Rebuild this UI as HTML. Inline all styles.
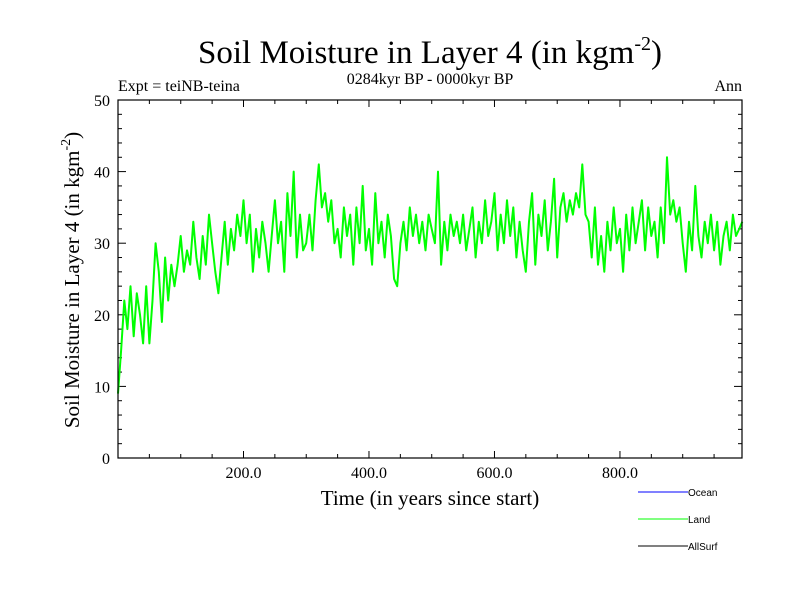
<!DOCTYPE html>
<html><head><meta charset="utf-8"><style>
body{margin:0;background:#fff}
.serif{font-family:"Liberation Serif",serif}
.sans{font-family:"Liberation Sans",sans-serif}
</style></head><body>
<svg id="c" width="800" height="600" xmlns="http://www.w3.org/2000/svg">
<text class="serif" x="430" y="63" font-size="33" text-anchor="middle">Soil Moisture in Layer 4 (in kgm<tspan dy="-13" font-size="20">-2</tspan><tspan dy="13">)</tspan></text>
<text class="serif" x="430" y="84" font-size="16" text-anchor="middle">0284kyr BP - 0000kyr BP</text>
<text class="serif" x="118" y="91" font-size="16">Expt = teiNB-teina</text>
<text class="serif" x="742" y="91" font-size="16" text-anchor="end">Ann</text>
<text class="serif" x="430" y="505" font-size="21" text-anchor="middle">Time (in years since start)</text>
<text class="serif" transform="translate(79,280) rotate(-90)" font-size="21" text-anchor="middle">Soil Moisture in Layer 4 (in kgm<tspan dy="-9" font-size="14">-2</tspan><tspan dy="9">)</tspan></text>
<g id="ticks" class="serif"></g>
<polyline id="land" fill="none" stroke="#00ff00" stroke-width="2" stroke-linejoin="round"/>
<rect x="118" y="100" width="624" height="358" fill="none" stroke="#000" stroke-width="1.2"/>
<g class="sans" font-size="10">
<line x1="638" y1="492" x2="688" y2="492" stroke="#0000ff"/>
<text x="688" y="496">Ocean</text>
<line x1="638" y1="519" x2="688" y2="519" stroke="#00ff00"/>
<text x="688" y="523">Land</text>
<line x1="638" y1="546" x2="688" y2="546" stroke="#000"/>
<text x="688" y="550">AllSurf</text>
</g>
</svg>
<script>
const years = Array.from({length:200},(_, i)=>i*5);
const landValues = [
9,15,22,18,24,17,23,20,16,24,
16,22,30,26,19,28,22,27,24,27,
31,26,29,27,33,28,25,31,27,34,
30,26,23,28,33,27,32,29,34,31,
36,30,34,26,32,28,33,30,26,31,
36,30,33,26,37,31,40,28,34,29,
30,34,29,36,41,35,37,33,36,30,
32,28,35,31,34,27,35,30,38,29,
32,27,37,30,33,28,34,31,25,24,
30,33,29,35,31,34,30,33,29,34,
32,30,40,27,33,29,34,31,33,30,
34,29,32,35,28,33,30,36,31,33,
37,29,34,30,36,31,35,28,33,29,
26,33,37,27,34,31,36,29,33,39,
28,35,37,33,36,34,37,35,41,34,
33,28,35,27,31,26,33,29,35,30,
32,26,34,29,35,30,33,36,29,35,
31,33,28,35,30,42,34,36,33,35,
30,26,33,29,38,31,28,33,30,34,
29,33,27,31,33,29,34,31,32,33];
const xTickValues = [200,400,600,800];
const xTickLabels = ["200.0","400.0","600.0","800.0"];
const yTickValues = [0,10,20,30,40,50];
const yTickLabels = ["0","10","20","30","40","50"];
const X0=118,X1=742,Y0=458,Y1=100,XMAX=994.5,YMAX=50;
const sx=v=>X0+v*(X1-X0)/XMAX, sy=v=>Y0-v*(Y0-Y1)/YMAX;
const NS="http://www.w3.org/2000/svg";
const g=document.getElementById('ticks');
function ln(x1,y1,x2,y2){const l=document.createElementNS(NS,'line');
l.setAttribute('x1',x1);l.setAttribute('y1',y1);l.setAttribute('x2',x2);l.setAttribute('y2',y2);l.setAttribute('stroke','#000');


g.appendChild(l);}
function tx(x,y,s,anchor,name){const t=document.createElementNS(NS,'text');
t.setAttribute('x',x);t.setAttribute('y',y);t.setAttribute('font-size','16');t.setAttribute('text-anchor',anchor);t.textContent=s;


g.appendChild(t);}
for(let v=50;v<XMAX;v+=50){const x=sx(v),L=(v%200===0)?7:4;ln(x,Y0,x,Y0-L);ln(x,Y1,x,Y1+L);}
for(let v=2;v<YMAX;v+=2){const y=sy(v),L=(v%10===0)?8:4;ln(X0,y,X0+L,y);ln(X1,y,X1-L,y);}
xTickValues.forEach((v,i)=>tx(sx(v),Y0+20,xTickLabels[i],'middle','x-tick-label'));
yTickValues.forEach((v,i)=>tx(X0-8,sy(v)+6,yTickLabels[i],'end','y-tick-label'));
document.getElementById('land').setAttribute('points',landValues.map((v,i)=>sx(years[i]).toFixed(1)+','+sy(v).toFixed(1)).join(' '));
</script>
</body></html>
